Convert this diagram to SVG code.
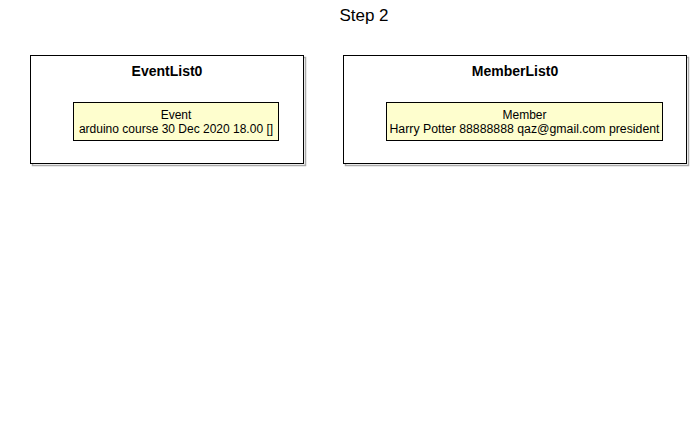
<svg xmlns="http://www.w3.org/2000/svg" width="696" height="446" viewBox="0 0 696 446">
<style>
text{font-family:"Liberation Sans",Arial,sans-serif;fill:#000}
.frame{fill:#fff;stroke:#000;stroke-width:1}
.shadow{fill:none;stroke:#aaa;stroke-width:1.5}
.obj{fill:#FEFECE;stroke:#000;stroke-width:1}
.ft{font-size:14px;font-weight:bold;text-anchor:middle}
.ot{font-size:12px;text-anchor:middle}
.title{font-size:17px;text-anchor:middle}
</style>
<rect width="696" height="446" fill="#fff"/>
<text class="title" x="364" y="21">Step 2</text>
<g id="EventList0">
<rect class="shadow" x="32.5" y="57.5" width="273" height="108"/>
<rect class="frame" x="30.5" y="55.5" width="273" height="108"/>
<text class="ft" x="167" y="76">EventList0</text>
</g>
<g id="Event">
<rect class="obj" x="73.5" y="102.5" width="205" height="38"/>
<text class="ot" x="176" y="119">Event</text>
<text class="ot" x="176" y="133">arduino course 30 Dec 2020 18.00 []</text>
</g>
<g id="MemberList0">
<rect class="shadow" x="345.5" y="57.5" width="343" height="108"/>
<rect class="frame" x="343.5" y="55.5" width="343" height="108"/>
<text class="ft" x="515" y="76">MemberList0</text>
</g>
<g id="Member">
<rect class="obj" x="386.5" y="102.5" width="276" height="38"/>
<text class="ot" x="524.5" y="119">Member</text>
<text class="ot" x="524.5" y="133" textLength="270" lengthAdjust="spacingAndGlyphs">Harry Potter 88888888 qaz@gmail.com president</text>
</g>
<g id="connectors"></g>
</svg>
